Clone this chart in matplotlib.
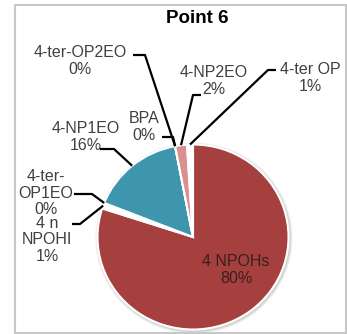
import matplotlib
matplotlib.use("Agg")
import matplotlib.pyplot as plt
import numpy as np
from matplotlib.patches import Ellipse, Rectangle

# share of each compound at point 6, in drawing order (clockwise from 12 o'clock)
names = ["4 NPOHs", "4 n\nNPOHI", "4-ter-\nOP1EO", "4-NP1EO", "BPA",
         "4-ter-OP2EO", "4-NP2EO", "4-ter OP"]
shares = [80, 1, 0, 16, 0, 0, 2, 1]
colours = ["#a5403e", "white", "white", "#3e96ae", "white",
           "white", "#d9918f", "white"]

W, H = 347, 334
cx, cy = 193, 237          # pie centre, pixels
rx, ry = 95.5, 92.5        # pie radius, pixels per unit

# label layout: text centre, leader start, leader elbow (pixels)
layout = {
    "4 NPOHs": ((236, 270), None, None),
    "4 n\nNPOHI": ((47, 240), (72, 224), (80, 224)),
    "4-ter-\nOP1EO": ((46, 193), (74, 194), (92, 194)),
    "4-NP1EO": ((86, 137), (100, 149), (114, 149)),
    "BPA": ((144, 127), (162, 137), (173, 137)),
    "4-ter-OP2EO": ((80, 61), (133, 55), (145, 55)),
    "4-NP2EO": ((214, 81), (201, 95), (193, 95)),
    "4-ter OP": ((310, 78), (276, 70), (268, 70)),
}


def at(px, py):
    """pixel position -> data coordinates"""
    return (px - cx) / rx, (cy - py) / ry


fig = plt.figure(figsize=(W / 100, H / 100), dpi=100)
ax = fig.add_axes([0, 0, 1, 1])

# soft shadow under the pie
for grow, a in [(0.035, 0.10), (0.025, 0.15), (0.015, 0.25)]:
    ax.add_patch(Ellipse((0.01, -0.012), 2 * (1 + grow), 2 * (1 + grow),
                         color="#9a9a9a", alpha=a, lw=0, zorder=0))

wedges, _ = ax.pie(shares, colors=colours, startangle=90, counterclock=False,
                   radius=1, wedgeprops=dict(edgecolor="white", linewidth=1.5))

ax.set_aspect("auto")
ax.set_xlim(-cx / rx, (W - cx) / rx)
ax.set_ylim((cy - H) / ry, cy / ry)
ax.axis("off")

font = dict(family=["Liberation Sans", "DejaVu Sans"], fontsize=11.5)
for name, share, w in zip(names, shares, wedges):
    (tx, ty), start, elbow = layout[name]
    text = "%s\n%d%%" % (name, share)
    colour = "#3a1f1f" if start is None else "#404040"
    ax.text(*at(tx, ty), text, ha="center", va="center", color=colour,
            linespacing=1.12, **font)
    if start is None:
        continue
    mid = np.deg2rad((w.theta1 + w.theta2) / 2)
    rim = (np.cos(mid), np.sin(mid))
    pts = [at(*start), at(*elbow), rim]
    ax.plot([p[0] for p in pts], [p[1] for p in pts], color="black",
            lw=1.6, solid_capstyle="butt", zorder=5)

ax.text(*at(197, 18), "Point 6", ha="center", va="center", fontweight="bold",
        family=["Liberation Sans", "DejaVu Sans"], fontsize=13.5, color="black")

fig.patches.append(Rectangle((15 / W, 1 - 333 / H), (346 - 15) / W, (333 - 5) / H,
                             transform=fig.transFigure, fill=False,
                             edgecolor="#c8c8c8", lw=1.5))

fig.savefig("out.png", dpi=100, facecolor="white")
